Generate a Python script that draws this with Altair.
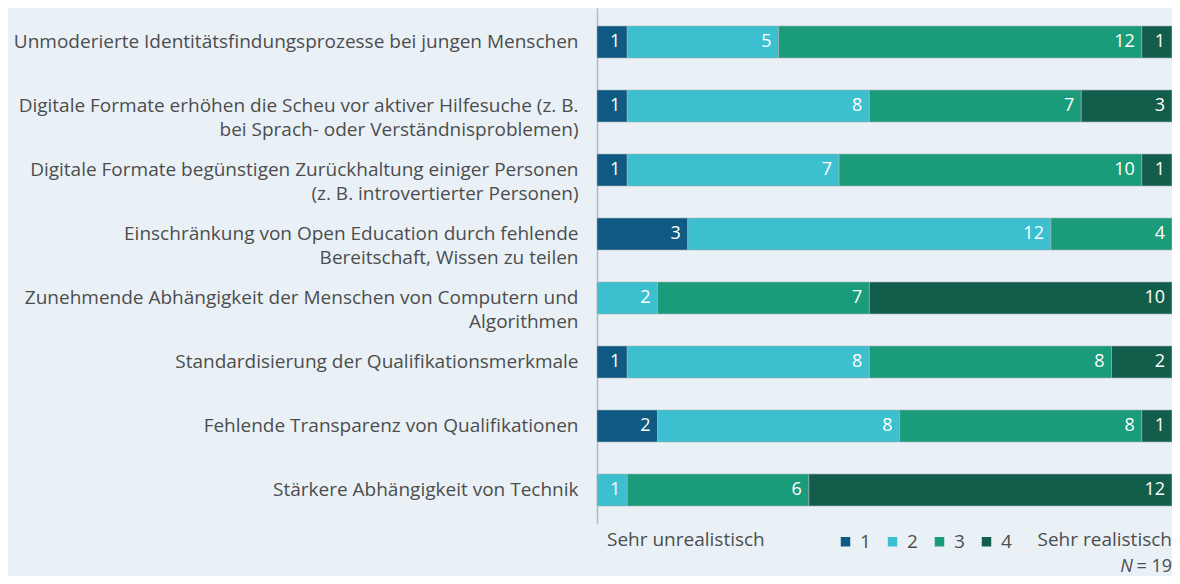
import altair as alt
import pandas as pd

categories = [
    "Unmoderierte Identitätsfindungsprozesse bei jungen Menschen",
    "Digitale Formate erhöhen die Scheu vor aktiver Hilfesuche (z. B.|bei Sprach- oder Verständnisproblemen)",
    "Digitale Formate begünstigen Zurückhaltung einiger Personen|(z. B. introvertierter Personen)",
    "Einschränkung von Open Education durch fehlende|Bereitschaft, Wissen zu teilen",
    "Zunehmende Abhängigkeit der Menschen von Computern und|Algorithmen",
    "Standardisierung der Qualifikationsmerkmale",
    "Fehlende Transparenz von Qualifikationen",
    "Stärkere Abhängigkeit von Technik",
]
rating_1 = [1, 1, 1, 3, 0, 1, 2, 0]
rating_2 = [5, 8, 7, 12, 2, 8, 8, 1]
rating_3 = [12, 7, 10, 4, 7, 8, 8, 6]
rating_4 = [1, 3, 1, 0, 10, 2, 1, 12]
levels = ["1", "2", "3", "4"]
colors = ["#0e5a83", "#3cbfcf", "#1a9b7a", "#135e4b"]
n_total = 19

rows = []
for i, cat in enumerate(categories):
    start = 0
    for lvl, series in zip(levels, [rating_1, rating_2, rating_3, rating_4]):
        v = series[i]
        rows.append({"cat": cat, "level": lvl, "value": v, "start": start, "end": start + v, "order": int(lvl)})
        start += v
df = pd.DataFrame(rows)
df = df[df["value"] > 0]

W, H = 575, 516
FONT = "Open Sans"
TXT = "#4d4d4d"
FS = 19

xs = alt.Scale(domain=[0, n_total], nice=False, zero=True)
ys = alt.Scale(paddingInner=0.5, paddingOuter=0.28125)

y_enc = alt.Y(
    "cat:N", sort=categories, scale=ys, title=None,
    axis=alt.Axis(
        domain=True, domainColor="#b5bcc0", domainWidth=1.5, ticks=False,
        labelPadding=19, labelFontSize=FS, labelColor=TXT, labelFont=FONT,
        labelLimit=0, labelLineHeight=24, grid=False,
        labelExpr="split(datum.label, '|')",
    ),
)

bars = alt.Chart(df).mark_bar(stroke="#a9b4b8", strokeWidth=0.6).encode(
    x=alt.X("start:Q", scale=xs, axis=None),
    x2="end:Q",
    y=y_enc,
    color=alt.Color(
        "level:N", scale=alt.Scale(domain=levels, range=colors),
        legend=alt.Legend(
            orient="none", legendX=239, legendY=524, direction="horizontal",
            title=None, symbolType="square", symbolSize=90, symbolStrokeWidth=0,
            labelFontSize=FS, labelFont=FONT, labelColor=TXT, columnPadding=12,
            labelOffset=5,
        ),
    ),
    order="order:Q",
)

labels = alt.Chart(df).mark_text(
    align="right", baseline="middle", dx=-7, color="white", fontSize=18, font=FONT
).encode(
    x=alt.X("end:Q", scale=xs),
    y=alt.Y("cat:N", sort=categories, scale=ys),
    text="value:Q",
)

ann = pd.DataFrame({
    "x": [0, n_total, n_total],
    "t": ["Sehr unrealistisch", "Sehr realistisch", " = 19"],
})

ann_left = alt.Chart(ann.iloc[[0]]).mark_text(
    align="left", baseline="middle", dx=10, fontSize=FS, font=FONT, color=TXT
).encode(x=alt.X("x:Q", scale=xs), y=alt.value(H + 16), text="t:N")

ann_right = alt.Chart(ann.iloc[[1]]).mark_text(
    align="right", baseline="middle", fontSize=FS, font=FONT, color=TXT
).encode(x=alt.X("x:Q", scale=xs), y=alt.value(H + 16), text="t:N")

ann_n = alt.Chart(ann.iloc[[2]]).mark_text(
    align="right", baseline="alphabetic", fontSize=18, font=FONT, color=TXT
).encode(x=alt.X("x:Q", scale=xs), y=alt.value(H + 48), text="t:N")

ann_nital = alt.Chart(pd.DataFrame({"x": [n_total], "t": ["N"]})).mark_text(
    align="right", baseline="alphabetic", dx=-39, fontSize=18, font=FONT, color=TXT, fontStyle="italic"
).encode(x=alt.X("x:Q", scale=xs), y=alt.value(H + 48), text="t:N")

chart = (
    alt.layer(bars, labels, ann_left, ann_right, ann_n, ann_nital)
    .properties(
        width=W, height=H,
        autosize=alt.AutoSizeParams(type="none"),
        padding={"left": 589, "top": 0, "right": 0, "bottom": 52},
        background="#e9f1f7",
    )
    .configure_view(stroke=None)
)

chart.save("out.html", embed_options={"renderer": "svg", "actions": False})
